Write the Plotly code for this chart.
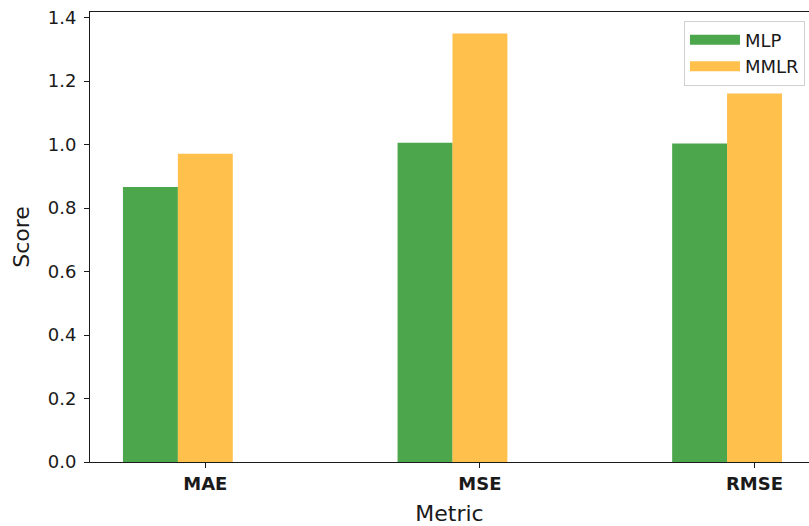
import numpy as np
import plotly.graph_objects as go

# ---- data ----
categories = ["MAE", "MSE", "RMSE"]
mlp_scores = [0.866, 1.006, 1.003]
mmlr_scores = [0.971, 1.350, 1.161]
series_names = ["MLP", "MMLR"]
y_ticks = [0.0, 0.2, 0.4, 0.6, 0.8, 1.0, 1.2, 1.4]

bar_w = 0.2
x = np.arange(len(categories))

green = "rgba(0,128,0,0.7)"
orange = "rgba(255,165,0,0.7)"
FONT = "DejaVu Sans"

fig = go.Figure()
fig.add_trace(go.Bar(x=x, y=mlp_scores, width=bar_w, name=series_names[0],
                     marker=dict(color=green, line=dict(width=0)), showlegend=False))
fig.add_trace(go.Bar(x=x + bar_w, y=mmlr_scores, width=bar_w, name=series_names[1],
                     marker=dict(color=orange, line=dict(width=0)), showlegend=False))
# legend entries (wide patches like matplotlib)
fig.add_trace(go.Scatter(x=[None], y=[None], mode="lines", name=series_names[0],
                         line=dict(color=green, width=10)))
fig.add_trace(go.Scatter(x=[None], y=[None], mode="lines", name=series_names[1],
                         line=dict(color=orange, width=10)))

ymax = max(max(mlp_scores), max(mmlr_scores)) * 1.05
x_lo = -bar_w / 2 - 0.12
px_per_unit = 274.6
x_hi = x_lo + (809 - 90) / px_per_unit

fig.update_layout(
    width=809, height=526,
    margin=dict(l=90, r=0, t=12, b=64),
    paper_bgcolor="white", plot_bgcolor="white",
    barmode="overlay",
    font=dict(family=FONT, color="#1a1a1a"),
    legend=dict(x=0.9944, y=0.981, xanchor="right", yanchor="top",
                bgcolor="white", bordercolor="#d0d0d0", borderwidth=1,
                font=dict(size=18, family=FONT), itemwidth=50),
    xaxis=dict(range=[x_lo, x_hi], tickmode="array", tickvals=x + bar_w,
               ticktext=categories, ticks="outside", ticklen=5, tickwidth=1,
               tickcolor="#1a1a1a", showline=True, linecolor="#1a1a1a", linewidth=1,
               mirror=True, showgrid=False, zeroline=False,
               tickfont=dict(size=18, family=FONT, weight="bold"),
               title=dict(text="Metric", font=dict(size=22, family=FONT), standoff=13)),
    yaxis=dict(range=[0, ymax], tickmode="array", tickvals=y_ticks, tickformat=".1f",
               ticks="outside", ticklen=5, tickwidth=1, tickcolor="#1a1a1a",
               showline=True, linecolor="#1a1a1a", linewidth=1, mirror=False,
               showgrid=False, zeroline=False, ticklabelstandoff=4,
               tickfont=dict(size=18, family=FONT),
               title=dict(text="Score", font=dict(size=22, family=FONT), standoff=12)),
)

fig.write_html("out.html")
